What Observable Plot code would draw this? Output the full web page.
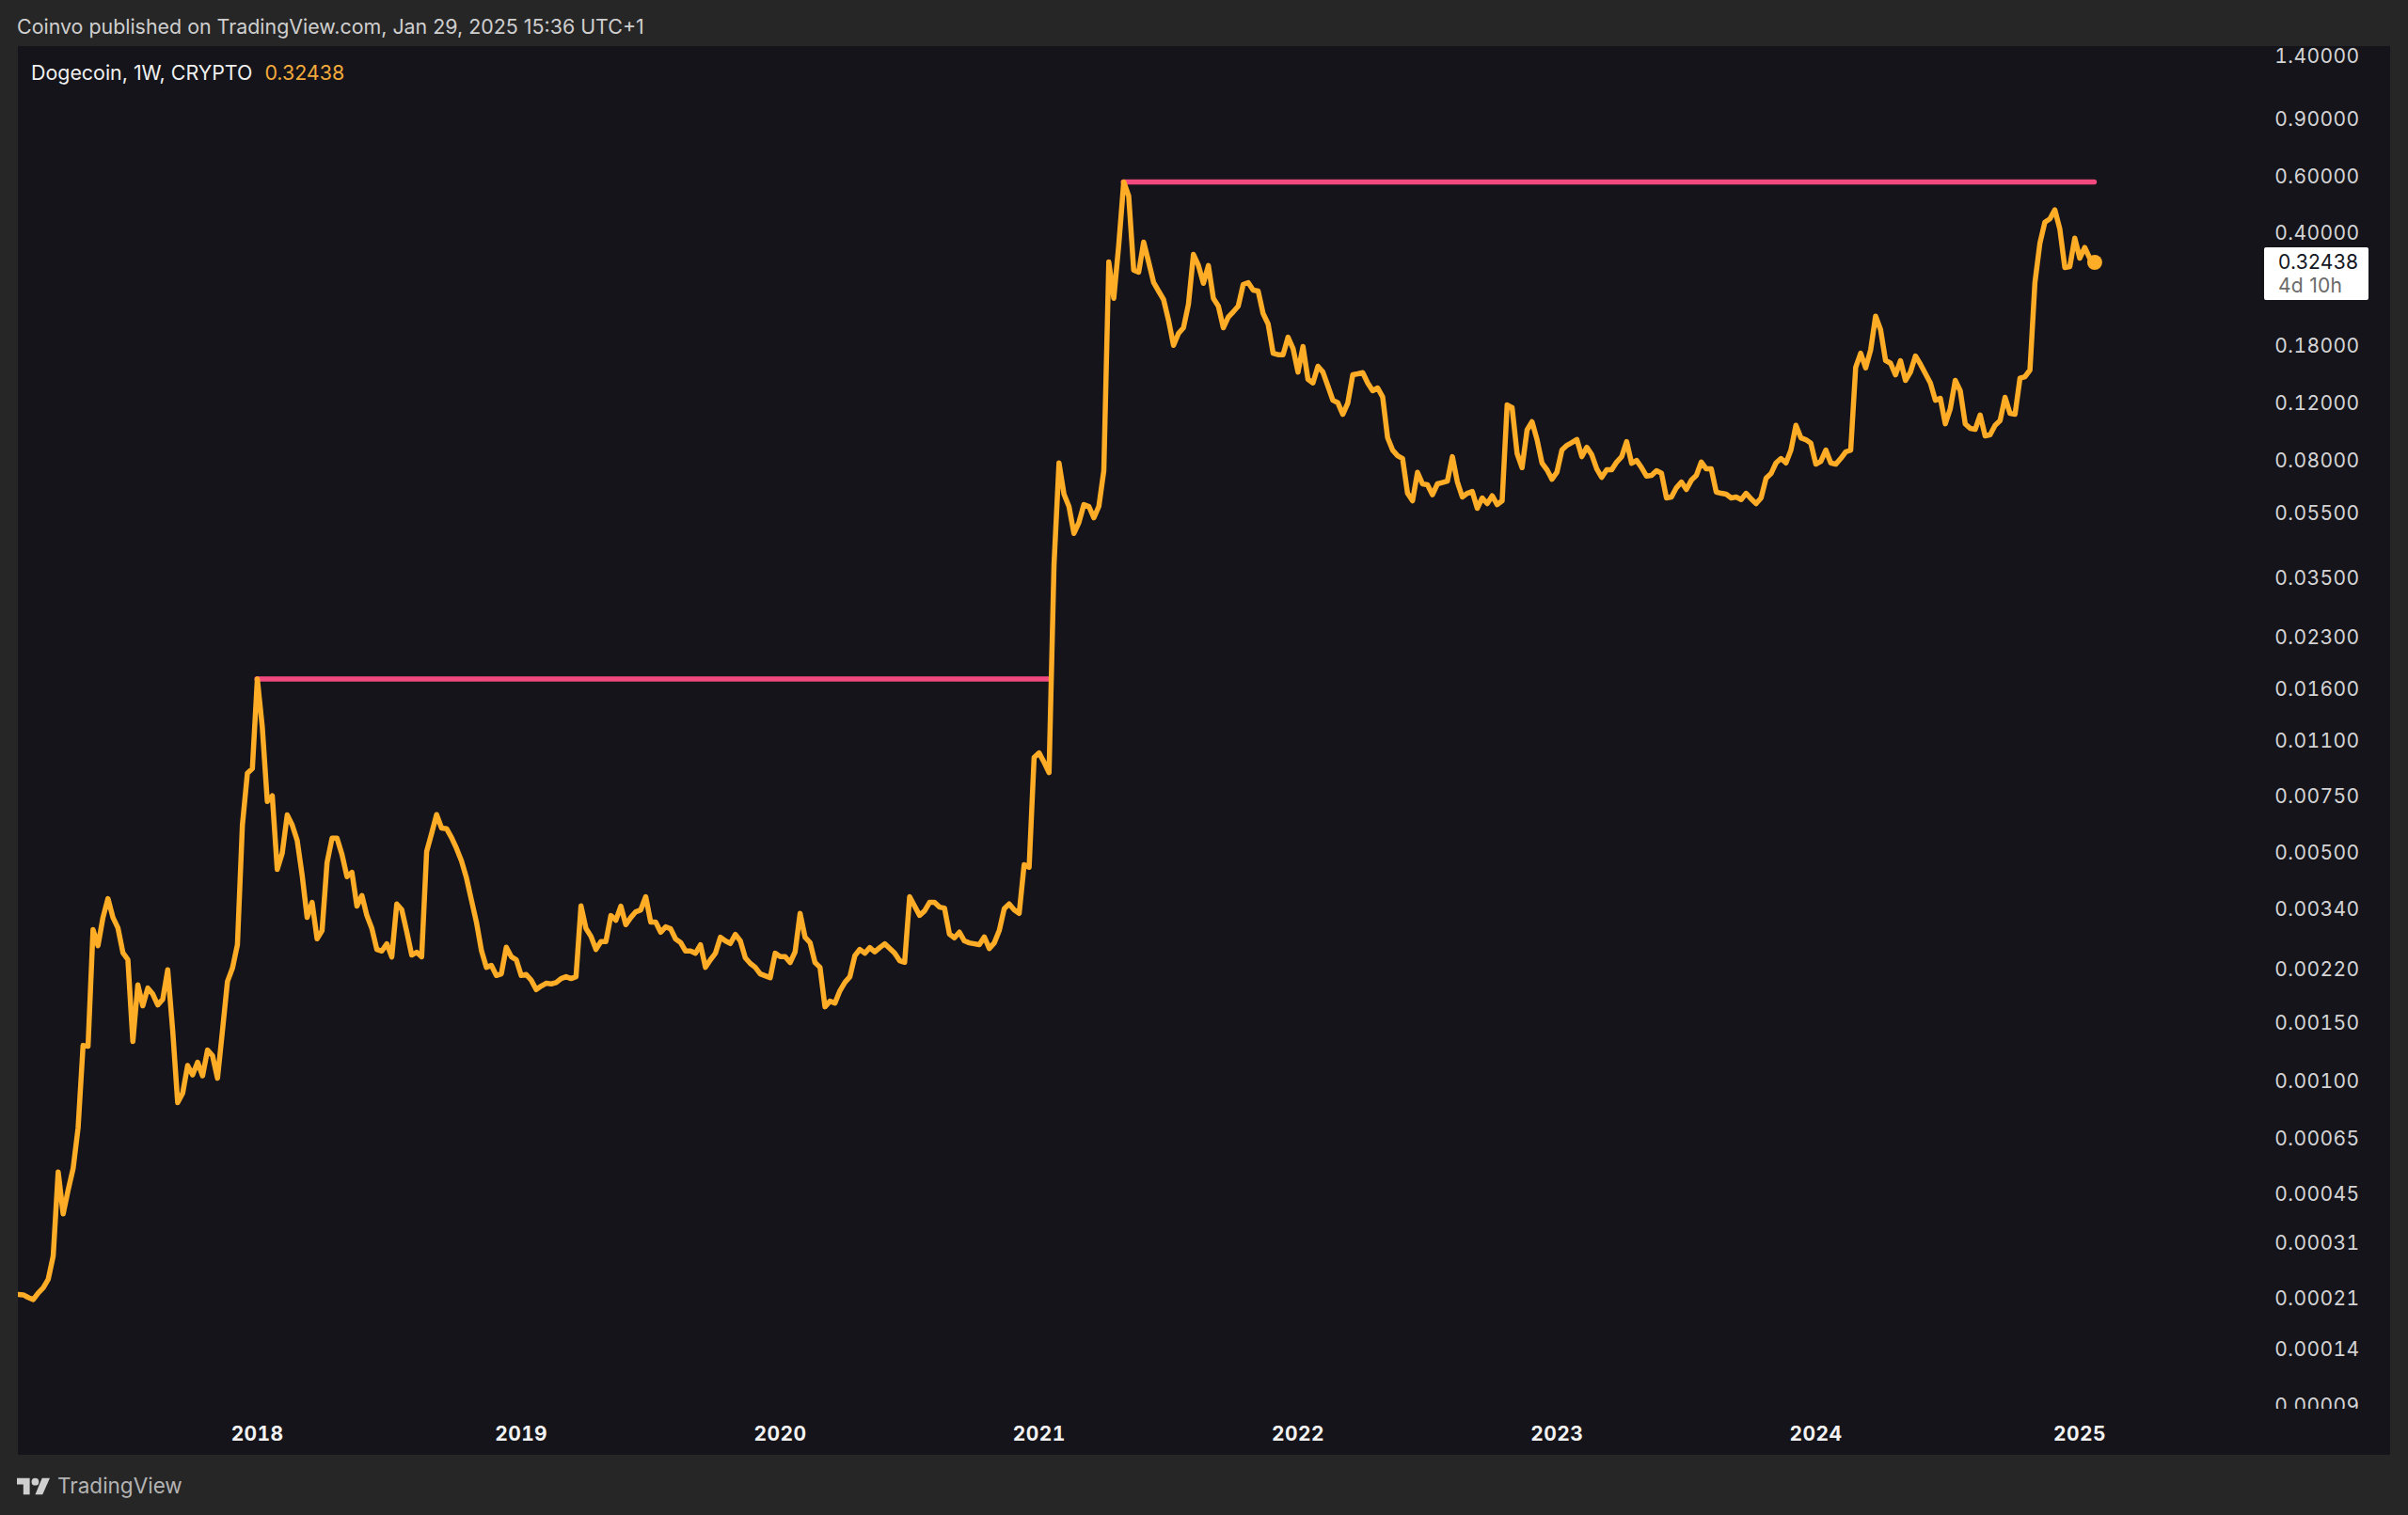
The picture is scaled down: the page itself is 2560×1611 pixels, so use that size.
<!DOCTYPE html>
<html>
<head>
<meta charset="utf-8">
<script src="https://cdn.jsdelivr.net/npm/d3@7"></script>
<script src="https://cdn.jsdelivr.net/npm/@observablehq/plot@0.6"></script>
<style>
html,body{margin:0;padding:0;background:#262626;}
#page{position:relative;width:2560px;height:1611px;overflow:hidden;background:#262626;font-family:Inter,"Liberation Sans",sans-serif;}
#top{position:absolute;left:18px;top:15px;font-size:21.4px;line-height:26px;color:#cfcfcf;white-space:nowrap;}
#chart{position:absolute;left:19px;top:49px;width:2522px;height:1498px;}
#legend{position:absolute;left:33px;top:64px;font-size:21.4px;line-height:26px;color:#f0f0f0;white-space:nowrap;}
#legend span{color:#f2a93b;margin-left:13px;}
#pricebox{position:absolute;left:2407px;top:263px;width:111px;height:56px;background:#fff;border-radius:2px;}
#pricebox div{position:absolute;left:15px;font-size:21px;line-height:24px;letter-spacing:.3px;white-space:nowrap;}
#axisfade{position:absolute;left:2400px;top:1498px;width:130px;height:40px;background:#14141a;}
#foot{position:absolute;left:18px;top:1568px;display:flex;align-items:center;}
#foot span{margin-left:8px;font-size:22.5px;line-height:24px;color:#b4b4b4;}
svg{display:block;}
</style>
</head>
<body>
<div id="page">
  <div id="top">Coinvo published on TradingView.com, Jan 29, 2025 15:36 UTC+1</div>
  <div id="chart"></div>
  <div id="legend">Dogecoin, 1W, CRYPTO<span>0.32438</span></div>
  <div id="pricebox"><div style="top:4px;color:#131722">0.32438</div><div style="top:29px;color:#6a6a6a">4d 10h</div></div>
  <div id="axisfade"></div>
  <div id="foot">
    <svg width="35" height="19" viewBox="0 0 36 18"><path fill="#cfcfcf" d="M14 18H7V7H0V0h14v18z"/><path fill="#cfcfcf" d="M28 18h-8L27.5 0H36l-8 18z"/><circle fill="#cfcfcf" cx="20" cy="4" r="4"/></svg>
    <span>TradingView</span>
  </div>
</div>
<script>
const startDate = "2017-01-30";
const domainEndDate = "2026-03-19";
const priceDomain = [6.86e-5, 1.499];

// Weekly close, one value per week from startDate
const price = [
.0002145,.000214,.00021,.000207,.000217,.000225,.000239,.000282,.000512,.00038,
.00045,.000524,.000699,.001256,.001248,.002854,.002548,.003112,.003557,.003112,
.002892,.002424,.002306,.00129,.001931,.001663,.001886,.001807,.001674,.001742,
.002148,.001397,.000837,.000895,.001089,.001019,.001115,.001012,.001215,.001167,
.000995,.001397,.001977,.002171,.002565,.005998,.008654,.008947,.0169,.011975,
.007085,.007373,.004374,.004909,.006441,.005998,.005379,.004202,.003112,.003463,
.002675,.002835,.004592,.005462,.005462,.004866,.004155,.004287,.003372,.003636,
.003154,.002879,.002481,.002453,.002582,.002352,.003424,.00329,.002816,.002384,
.002431,.002356,.004966,.00565,.006453,.005868,.005842,.005487,.005077,.004645,
.004119,.003517,.003011,.002464,.002185,.002215,.002062,.002086,.002519,.002356,
.002306,.002062,.002076,.001995,.001866,.001913,.001951,.001943,.00196,.002017,
.002044,.002017,.002044,.003379,.002879,.002723,.002481,.002621,.002621,.003154,
.003051,.003372,.002957,.003112,.00324,.003283,.003605,.003011,.003011,.002803,
.002912,.002873,.00267,.002605,.002453,.002453,.002415,.002565,.002185,.002306,
.002415,.002705,.002635,.002587,.00276,.002635,.002337,.002245,.002185,.002086,
.002058,.00203,.002415,.002356,.002356,.00226,.002437,.003203,.002705,.002605,
.00226,.002185,.001651,.001719,.001696,.00185,.001964,.002044,.002373,.002481,
.002415,.002514,.002437,.002514,.002582,.002497,.002415,.00229,.002264,.003605,
.003372,.003159,.003261,.003463,.003463,.003349,.003327,.002766,.002693,.002803,
.002635,.002599,.002582,.002565,.002711,.002497,.002599,.002835,.003312,.003424,
.003283,.003203,.004522,.004442,.009675,.01,.009356,.008693,.03799,.07819,
.06263,.05744,.04743,.05128,.0582,.05744,.053,.05744,.074,.3254,
.2514,.3669,.574,.519,.3071,.3024,.3744,.3254,.2811,.2646,
.2492,.2151,.18,.196,.204,.241,.3432,.3175,.2796,.317,
.2514,.2379,.204,.22,.2285,.2379,.2773,.2811,.2664,.2646,
.2254,.2095,.1703,.1685,.1685,.1908,.1761,.149,.1785,.1416,
.1379,.1552,.149,.1349,.122,.1198,.1104,.1196,.1461,.1471,
.1484,.1379,.1305,.1331,.1248,.09344,.08568,.08231,.0807,.06304,
.05978,.07317,.06742,.06694,.0624,.06742,.06806,.06873,.08176,.06842,
.0614,.06304,.06386,.05667,.061,.0586,.06193,.0582,.05978,.118,
.1157,.08359,.07562,.09875,.1047,.09238,.07819,.07447,.06966,.07317,
.08568,.08857,.09035,.09238,.08176,.08739,.08285,.07498,.0706,.07447,
.07447,.07871,.08176,.09098,.07803,.07961,.07562,.07122,.07156,.074,
.07266,.061,.0614,.06562,.06828,.06475,.0692,.07156,.07871,.07498,
.07498,.06358,.06304,.06263,.061,.0614,.06031,.06304,.06058,.0586,
.061,.07013,.07251,.07819,.0807,.07819,.08568,.1021,.09344,.0922,
.08994,.07752,.07908,.08568,.07819,.07752,.0807,.08456,.08568,.1541,
.1703,.1534,.1741,.2214,.2012,.1618,.1586,.1461,.1615,.1404,
.149,.167,.1576,.1474,.1379,.122,.1237,.1032,.1149,.1404,
.1305,.1032,.09988,.0992,.1099,.09469,.0955,.1021,.1056,.1245,
.1111,.1104,.1426,.1442,.1511,.2811,.3718,.4315,.4414,.4706,
.411,.3127,.3147,.3853,.3342,.3604,.3342,.32438
];

// Resistance levels
const levelStart = ["2018-01-01", "2021-05-03"];
const levelEnd   = ["2021-01-18", "2025-01-27"];
const levelPrice = [0.0169, 0.574];

// Axis ticks
const yearTicks = ["2018-01-01","2019-01-07","2020-01-06","2021-01-04","2022-01-03","2023-01-02","2024-01-01","2025-01-06"];
const priceTickAt = [1.4,.9,.6,.4,.18,.12,.08,.055,.0347,.0228,.0158,.0109,.00735,.00493,.00332,.00216,.001475,.00098,.00065,.00044,.00031,.00021,.000146,.0000977];
const priceTickText = ["1.40000","0.90000","0.60000","0.40000","0.18000","0.12000","0.08000","0.05500","0.03500","0.02300","0.01600","0.01100","0.00750","0.00500","0.00340","0.00220","0.00150","0.00100","0.00065","0.00045","0.00031","0.00021","0.00014","0.00009"];

const orange = "#ffad27";
const pink = "#f24a7f";

const start = new Date(startDate);
const series = price.map((p, i) => ({date: d3.utcDay.offset(start, 7 * i), price: p}));
const levels = levelPrice.map((p, i) => ({from: new Date(levelStart[i]), to: new Date(levelEnd[i]), price: p}));
const tickLabel = new Map(priceTickAt.map((v, i) => [v, priceTickText[i]]));

const chart = Plot.plot({
  width: 2522,
  height: 1498,
  marginTop: 0, marginRight: 0, marginBottom: 0, marginLeft: 0,
  style: {background: "#14141a", fontFamily: "Inter, sans-serif", letterSpacing: "0.4px"},
  x: {type: "utc", domain: [start, new Date(domainEndDate)]},
  y: {type: "log", domain: priceDomain},
  marks: [
    Plot.ruleY(levels, {x1: "from", x2: "to", y: "price", stroke: pink, strokeWidth: 5.5, strokeLinecap: "round"}),
    Plot.line(series, {x: "date", y: "price", stroke: orange, strokeWidth: 5.5, strokeLinejoin: "round", strokeLinecap: "round"}),
    Plot.dot(series.slice(-1), {x: "date", y: "price", r: 8, fill: orange}),
    Plot.axisY(priceTickAt, {anchor: "right", label: null, tickSize: 0, tickPadding: 0, dx: -33, dy: 1, textAnchor: "end", tickFormat: d => tickLabel.get(d), fontSize: 21, fill: "#d4d4d6"}),
    Plot.axisX(yearTicks.map(d => new Date(d)), {anchor: "bottom", label: null, tickSize: 0, tickPadding: 0, dy: -30, tickFormat: d3.utcFormat("%Y"), fontSize: 21, fontWeight: 700, fill: "#f2f2f2"})
  ]
});
document.getElementById("chart").appendChild(chart);
</script>
</body>
</html>
